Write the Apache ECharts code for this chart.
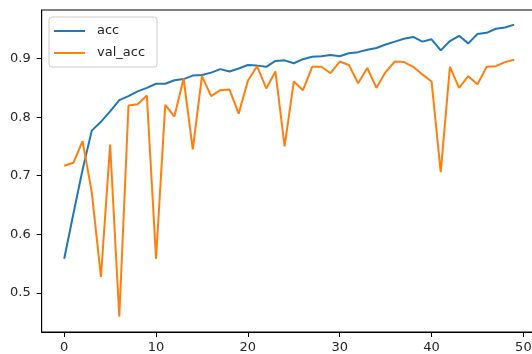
<!DOCTYPE html>
<html>
<head>
<meta charset="utf-8">
<script src="https://cdn.jsdelivr.net/npm/echarts@6/dist/echarts.min.js"></script>
<style>
html,body{margin:0;padding:0;background:#fff;}
#chart{width:532px;height:354px;}
</style>
</head>
<body>
<div id="chart"></div>
<script>
var epochs = [];
for (var e = 0; e < 50; e++) epochs.push(e);

var acc = [0.558, 0.635, 0.710, 0.777, 0.792, 0.810, 0.829, 0.836, 0.844, 0.850,
           0.857, 0.857, 0.863, 0.865, 0.871, 0.872, 0.876, 0.882, 0.878, 0.883,
           0.889, 0.888, 0.886, 0.896, 0.897, 0.892, 0.899, 0.903, 0.904, 0.906,
           0.904, 0.909, 0.911, 0.915, 0.918, 0.924, 0.929, 0.934, 0.937, 0.929,
           0.933, 0.914, 0.930, 0.939, 0.926, 0.942, 0.944, 0.951, 0.953, 0.958];

var valAcc = [0.717, 0.722, 0.759, 0.672, 0.527, 0.753, 0.459, 0.820, 0.822, 0.837,
              0.558, 0.821, 0.801, 0.866, 0.745, 0.870, 0.836, 0.846, 0.847, 0.806,
              0.862, 0.887, 0.849, 0.878, 0.750, 0.861, 0.846, 0.886, 0.886, 0.875,
              0.895, 0.889, 0.858, 0.884, 0.850, 0.877, 0.895, 0.894, 0.886, 0.873,
              0.861, 0.706, 0.886, 0.850, 0.870, 0.856, 0.886, 0.887, 0.894, 0.898];

var xTicks = [0, 10, 20, 30, 40, 50];
var yTicks = [0.5, 0.6, 0.7, 0.8, 0.9];

function pairs(ys) {
  return epochs.map(function (x, i) { return [x, ys[i]]; });
}

var chart = echarts.init(document.getElementById('chart'), null, {renderer: 'canvas'});
var FONT = 'DejaVu Sans';
chart.setOption({
  animation: false,
  backgroundColor: '#ffffff',
  grid: {
    left: 41.7, top: 10, width: 495, height: 322,
    outerBoundsMode: 'none', containLabel: false,
    show: true, borderColor: '#000', borderWidth: 1, backgroundColor: 'transparent'
  },
  legend: {
    data: ['acc', 'val_acc'],
    orient: 'vertical',
    left: 49, top: 17,
    icon: 'rect',
    itemWidth: 31, itemHeight: 2,
    itemGap: 8,
    padding: [7, 12, 7, 5],
    backgroundColor: 'rgba(255,255,255,0.8)',
    borderColor: '#cccccc', borderWidth: 1, borderRadius: 3,
    textStyle: {fontFamily: FONT, fontSize: 13, color: '#222', lineHeight: 14, padding: [0, 0, 0, 7]}
  },
  xAxis: {
    type: 'value', min: -2.45, max: 51.45,
    splitLine: {show: false},
    axisLine: {show: true, onZero: false, lineStyle: {color: '#000', width: 1}},
    axisTick: {show: true, length: 5, inside: false, customValues: xTicks, lineStyle: {color: '#000', width: 1}},
    axisLabel: {customValues: xTicks, margin: 9, fontFamily: FONT, fontSize: 13, color: '#262626',
                hideOverlap: false,
                formatter: function (v) { return String(v); }}
  },
  yAxis: {
    type: 'value', min: 0.433, max: 0.983,
    splitLine: {show: false},
    axisLine: {show: true, onZero: false, lineStyle: {color: '#000', width: 1}},
    axisTick: {show: true, length: 5, inside: false, customValues: yTicks, lineStyle: {color: '#000', width: 1}},
    axisLabel: {customValues: yTicks, margin: 11, fontFamily: FONT, fontSize: 13, color: '#262626',
                formatter: function (v) { return v.toFixed(1); }}
  },
  series: [
    {name: 'acc', type: 'line', data: pairs(acc), symbol: 'none', showSymbol: false,
     lineStyle: {color: '#1f77b4', width: 2}, itemStyle: {color: '#1f77b4'}},
    {name: 'val_acc', type: 'line', data: pairs(valAcc), symbol: 'none', showSymbol: false,
     lineStyle: {color: '#ff7f0e', width: 2}, itemStyle: {color: '#ff7f0e'}}
  ]
});
</script>
</body>
</html>
